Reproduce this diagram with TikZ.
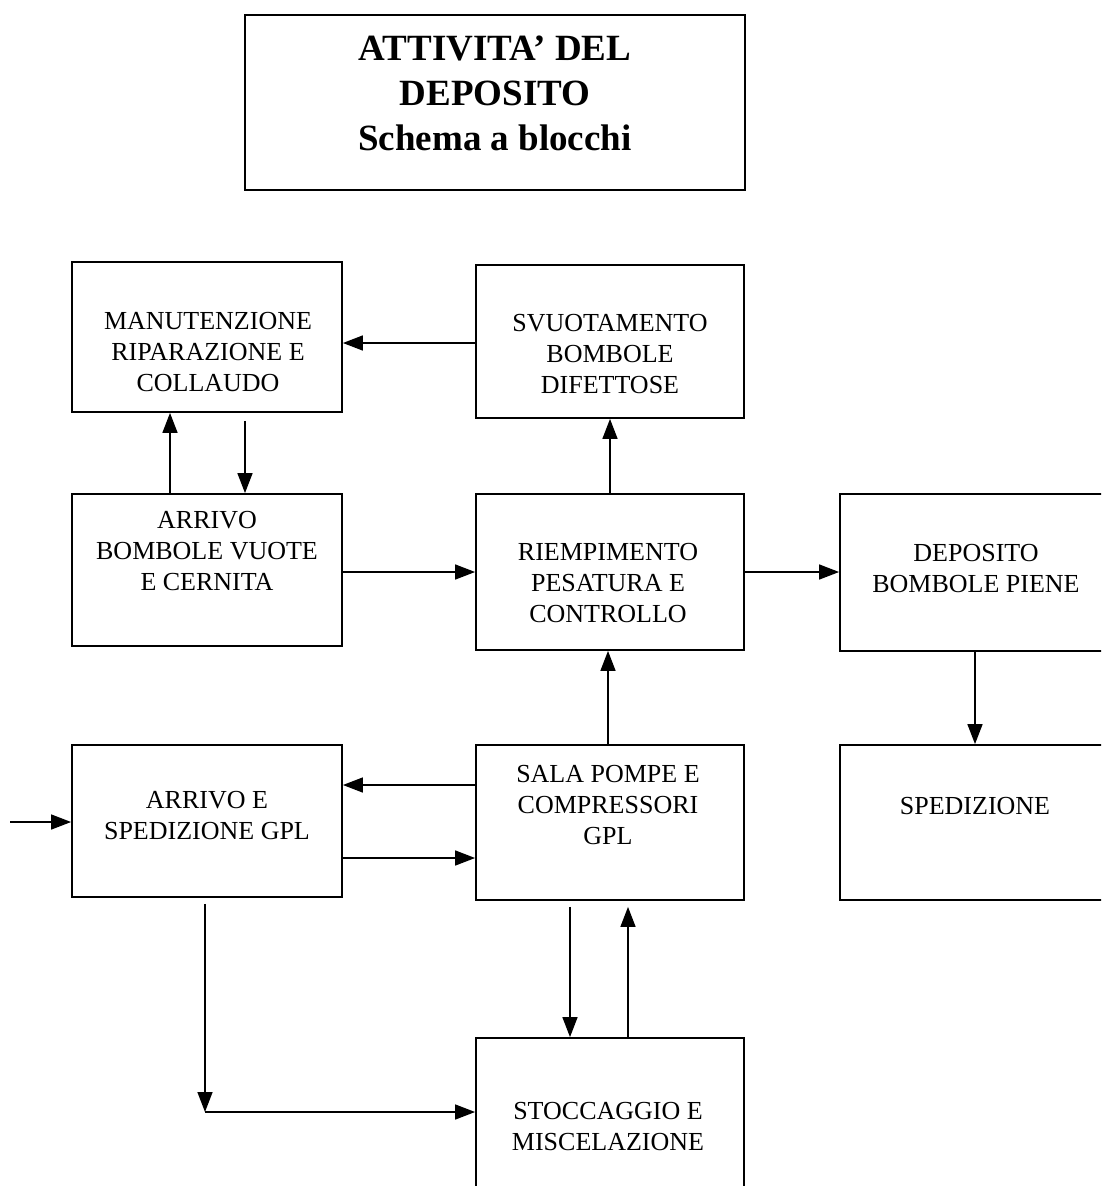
\documentclass[tikz,border=0pt]{standalone}
\usepackage{fontspec}
\setmainfont{Liberation Serif}
\usetikzlibrary{arrows.meta}
\begin{document}
\begin{tikzpicture}[x=1pt,y=-1pt,
  box/.style={draw, line width=1.8pt, rectangle, inner sep=0pt},
  lbl/.style={align=center, inner sep=0pt, font=\fontsize{26}{31}\selectfont},
  ttl/.style={align=center, inner sep=0pt, font=\bfseries\fontsize{37}{45}\selectfont},
  arr/.style={line width=1.5pt, -{Triangle[length=20pt,width=15pt]}}]
\clip (0,0) rectangle (1101,1186);

% title block
\node[box, minimum width=500pt, minimum height=175pt] (tb) at (495,102.5) {};
\node[ttl] (tt) at (495,93) {ATTIVITA' DEL\\DEPOSITO\\Schema a blocchi};

% blocks
\node[box, minimum width=270pt, minimum height=150pt] (m)  at (207,337) {};
\node[box, minimum width=268pt, minimum height=153pt] (sv) at (610,341.5) {};
\node[box, minimum width=270pt, minimum height=152pt] (ab) at (207,570) {};
\node[box, minimum width=268pt, minimum height=156pt] (rp) at (610,572) {};
\node[box, minimum width=270pt, minimum height=157pt] (dp) at (975,572.5) {};
\node[box, minimum width=270pt, minimum height=152pt] (ag) at (207,821) {};
\node[box, minimum width=268pt, minimum height=155pt] (sa) at (610,822.5) {};
\node[box, minimum width=270pt, minimum height=155pt] (sp) at (975,822.5) {};
\node[box, minimum width=268pt, minimum height=162pt] (st) at (610,1119) {};

% block texts
\node[lbl] (mt)  at (208,352) {MANUTENZIONE\\RIPARAZIONE E\\COLLAUDO};
\node[lbl] (svt) at (610,354) {SVUOTAMENTO\\BOMBOLE\\DIFETTOSE};
\node[lbl] (abt) at (207,551) {ARRIVO\\BOMBOLE VUOTE\\E CERNITA};
\node[lbl] (rpt) at (608,583) {RIEMPIMENTO\\PESATURA E\\CONTROLLO};
\node[lbl] (dpt) at (976,569) {DEPOSITO\\BOMBOLE PIENE};
\node[lbl] (agt) at (207,816) {ARRIVO E\\SPEDIZIONE GPL};
\node[lbl] (sat) at (608,805) {SALA POMPE E\\COMPRESSORI\\GPL};
\node[lbl] (spt) at (975,806) {SPEDIZIONE};
\node[lbl] (stt) at (608,1127) {STOCCAGGIO E\\MISCELAZIONE};

% connector levels
\coordinate (h1) at (0,343);
\coordinate (h2) at (0,572);
\coordinate (h3) at (0,785);
\coordinate (h4) at (0,858);
\coordinate (v1) at (170,0);
\coordinate (v2) at (245,0);
\coordinate (v3) at (610,0);
\coordinate (v4) at (608,0);
\coordinate (v5) at (975,0);
\coordinate (v6) at (570,0);
\coordinate (v7) at (628,0);
\coordinate (src) at (10,822);
\coordinate (cn) at (205,1112);

% connectors
\draw[arr] (sv.west |- h1) -- (m.east |- h1);
\draw[arr] (ab.north -| v1) -- (m.south -| v1);
\draw[arr] ([yshift=-8pt]m.south -| v2) -- (ab.north -| v2);
\draw[arr] (rp.north -| v3) -- (sv.south -| v3);
\draw[arr] (ab.east |- h2) -- (rp.west |- h2);
\draw[arr] (rp.east |- h2) -- (dp.west |- h2);
\draw[arr] (dp.south -| v5) -- (sp.north -| v5);
\draw[arr] (sa.north -| v4) -- (rp.south -| v4);
\draw[arr] (sa.west |- h3) -- (ag.east |- h3);
\draw[arr] (ag.east |- h4) -- (sa.west |- h4);
\draw[arr] (src) -- (ag.west |- src);
\draw[arr] ([yshift=-6pt]ag.south -| cn) -- (cn);
\draw[arr] (cn) -- (st.west |- cn);
\draw[arr] ([yshift=-6pt]sa.south -| v6) -- (st.north -| v6);
\draw[arr] (st.north -| v7) -- ([yshift=-6pt]sa.south -| v7);
\end{tikzpicture}
\end{document}
